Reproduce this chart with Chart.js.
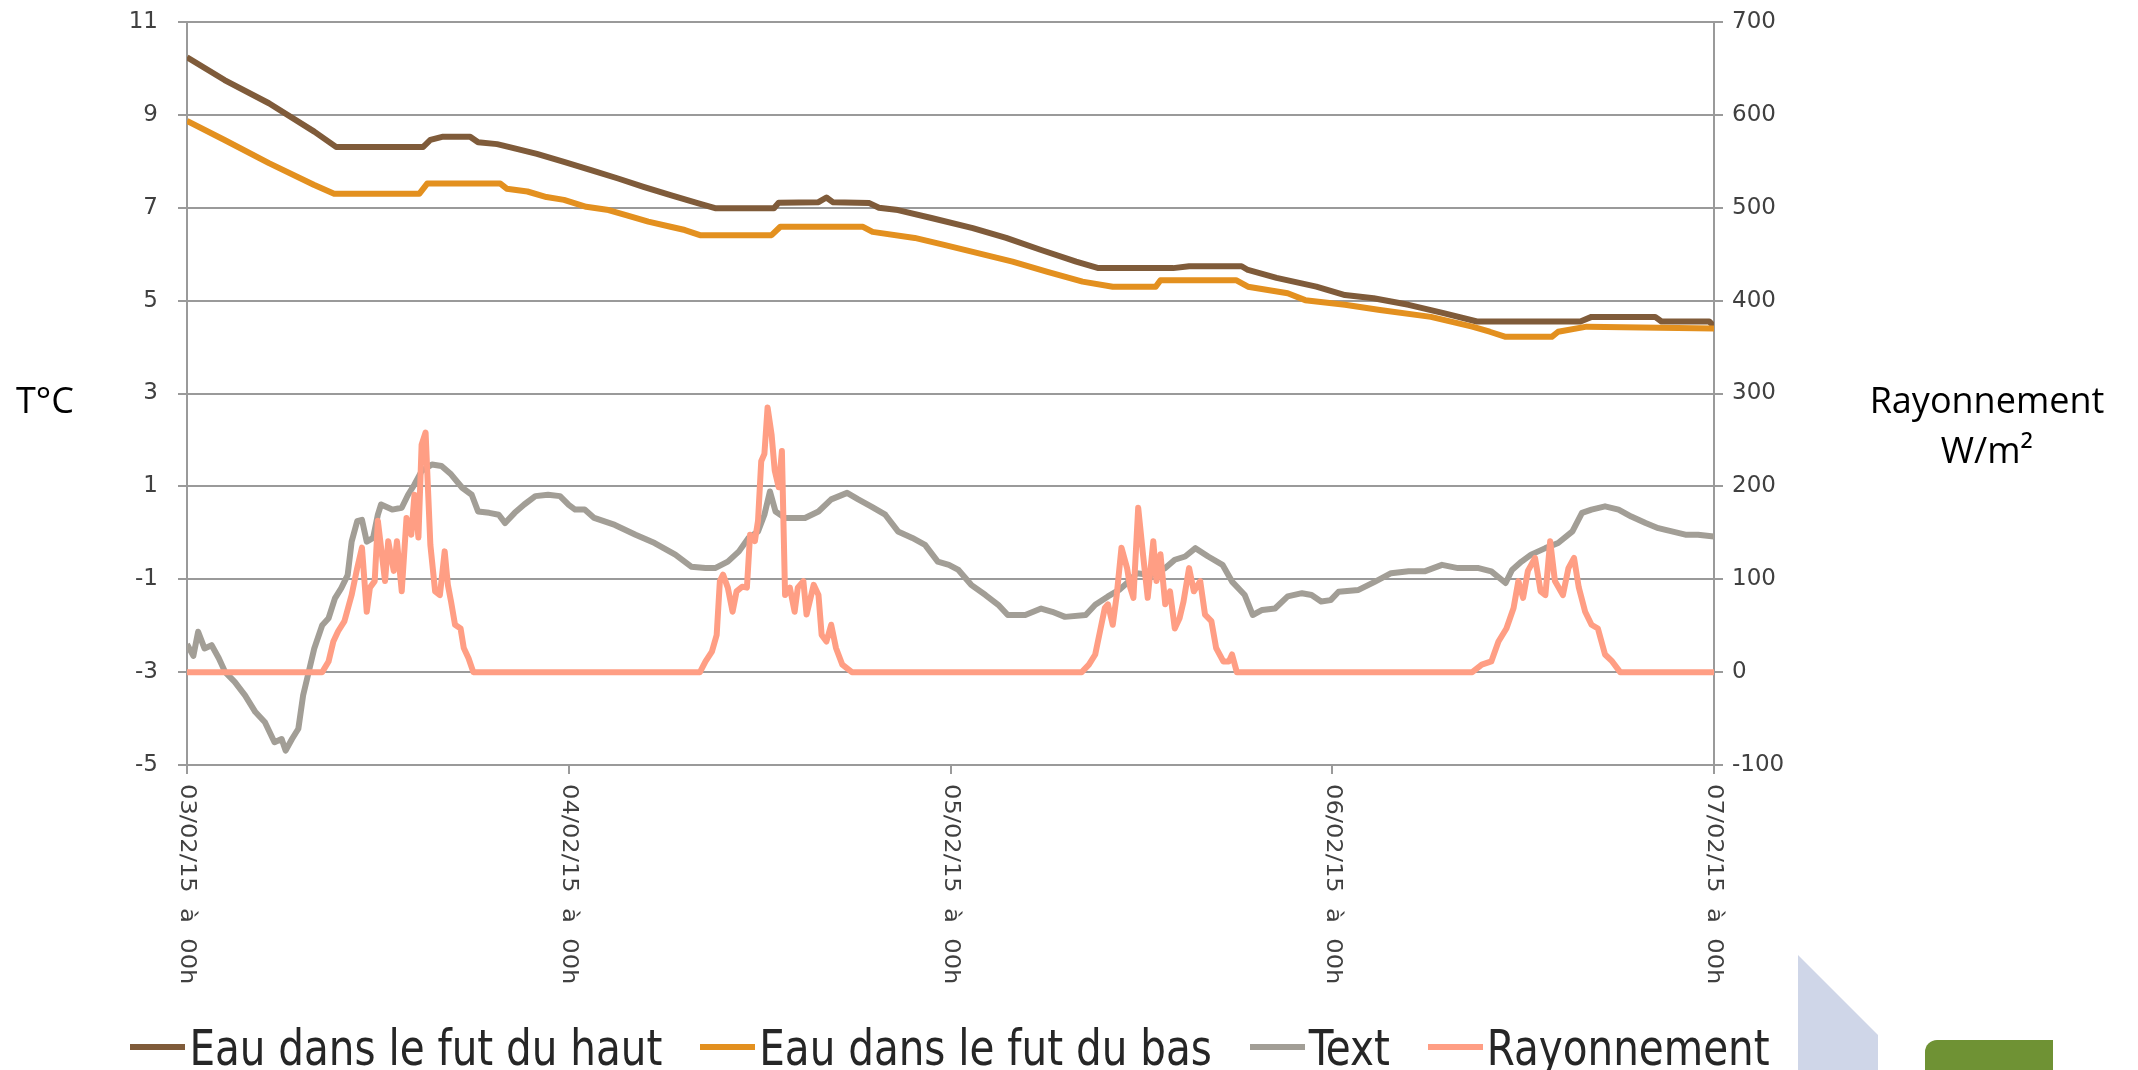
<!DOCTYPE html>
<html lang="fr">
<head>
<meta charset="utf-8">
<title>Températures des fûts et rayonnement</title>
<script src="https://cdn.jsdelivr.net/npm/chart.js"></script>
<style>
  body { margin: 0; background: #fff; }
  #page { position: relative; width: 2138px; height: 1070px; overflow: hidden; background: #fff; }
  #graph { position: absolute; left: 0; top: 0; }
  .titre { position: absolute; font-family: 'Open Sans', sans-serif; font-size: 36px; line-height: 50px; color: #000; }
  #legende { position: absolute; left: 0; width: 1900px; top: 1020px; height: 54px;
             display: flex; justify-content: center; align-items: center;
             font-family: 'DejaVu Sans Condensed', 'DejaVu Sans', sans-serif; font-size: 45px; color: #262626; }
  #legende .item { display: flex; align-items: center; margin: 0 19px; white-space: nowrap; }
  #legende .item span.txt { display: inline-block; transform: scaleY(1.1); }
  #legende .trait { width: 55px; height: 6px; margin-right: 4px; }
  #forme { position: absolute; left: 1798px; top: 955px; width: 80px; height: 115px; background: #cfd6e8;
           clip-path: polygon(0 0, 100% 69.6%, 100% 100%, 0 100%); }
  #onglet { position: absolute; left: 1925px; top: 1040px; width: 128px; height: 40px; background: #6f9234;
            border-top-left-radius: 12px; }
</style>
</head>
<body>
<div id="page">
  <canvas id="graph" width="2138" height="1070"></canvas>
  <div class="titre" style="left:16px; top:375px;">T°C</div>
  <div class="titre" style="left:1837px; top:375px; width:300px; text-align:center;">Rayonnement<br>W/m²</div>
  <div id="legende"></div>
  <div id="forme"></div>
  <div id="onglet"></div>
</div>

<script>
// heures comptées depuis le 03/02/15 à 00h
var heuresTicks = [0, 24, 48, 72, 96];
var etiquettesX = ['03/02/15  à  00h', '04/02/15  à  00h', '05/02/15  à  00h', '06/02/15  à  00h', '07/02/15  à  00h'];

var nomsSeries = ['Eau dans le fut du haut', 'Eau dans le fut du bas', 'Text', 'Rayonnement'];
var couleurs = ['#7f5b3a', '#e3901f', '#a29e96', '#ff9e84'];

// eau dans le fut du haut (°C)
var heuresHaut = [0, 2.36, 5.15, 8.0, 9.37, 14.85, 15.3, 16.1, 17.8, 18.3, 19.5, 20.6, 22.0, 23.7, 25.4, 27.1,
  28.7, 30.4, 32.1, 33.2, 36.9, 37.2, 39.7, 40.2, 40.6, 42.9, 43.5, 44.7, 46.8, 49.4, 51.5, 53.7, 55.9, 57.3,
  62.0, 63.0, 66.3, 66.7, 68.5, 71.0, 72.8, 74.6, 76.8, 79.0, 81.1, 87.6, 88.3, 92.3, 92.7, 95.7, 96];
var eauHaut = [10.24, 9.75, 9.25, 8.64, 8.31, 8.31, 8.46, 8.53, 8.53, 8.41, 8.37, 8.28, 8.16, 7.99, 7.81, 7.63,
  7.45, 7.27, 7.1, 6.99, 6.99, 7.11, 7.12, 7.22, 7.12, 7.1, 7.0, 6.95, 6.78, 6.56, 6.35, 6.09, 5.84, 5.7,
  5.7, 5.74, 5.74, 5.66, 5.49, 5.3, 5.12, 5.05, 4.91, 4.73, 4.55, 4.55, 4.65, 4.65, 4.55, 4.55, 4.45];

// eau dans le fut du bas (°C)
var heuresBas = [0, 2.36, 5.15, 8.0, 9.25, 14.6, 15.1, 19.7, 20.1, 21.4, 22.6, 23.7, 25.1, 26.5, 27.6, 29.0,
  30.4, 31.3, 32.25, 36.75, 37.3, 42.5, 43.1, 45.75, 47.6, 49.4, 51.9, 54.1, 56.3, 58.2, 60.9, 61.2, 65.95,
  66.7, 69.2, 70.3, 72.8, 75.0, 78.2, 80.8, 81.9, 82.9, 85.8, 86.2, 88.0, 96];
var eauBas = [8.87, 8.46, 7.96, 7.49, 7.3, 7.3, 7.52, 7.52, 7.41, 7.35, 7.23, 7.17, 7.02, 6.95, 6.84, 6.7,
  6.59, 6.52, 6.41, 6.41, 6.59, 6.59, 6.48, 6.35, 6.2, 6.05, 5.84, 5.62, 5.41, 5.3, 5.3, 5.44, 5.44,
  5.3, 5.16, 5.01, 4.91, 4.8, 4.65, 4.44, 4.33, 4.22, 4.22, 4.33, 4.44, 4.4];

// température extérieure (°C)
var heuresExt = [0, 0.4, 0.7, 1.1, 1.55, 2.0, 2.4, 3.0, 3.65, 4.3, 4.9, 5.5, 5.95, 6.2, 6.6, 7.0, 7.3, 7.6,
  8.0, 8.5, 8.9, 9.3, 9.7, 10.1, 10.35, 10.7, 11.0, 11.3, 11.7, 12.0, 12.2, 12.9, 13.5, 13.9, 14.3, 14.75,
  15.4, 16.0, 16.6, 17.3, 17.9, 18.3, 19.0, 19.6, 20.0, 20.6, 21.2, 21.9, 22.7, 23.45, 24.0, 24.4, 25.0,
  25.6, 26.9, 28.2, 29.4, 30.7, 31.7, 32.6, 33.2, 34.0, 34.7, 35.3, 35.9, 36.3, 36.65, 37.0, 37.6, 38.2,
  38.85, 39.7, 40.5, 41.5, 42.2, 43.0, 43.9, 44.7, 45.6, 46.4, 47.2, 47.9, 48.5, 49.3, 50.2, 51.0, 51.6,
  52.7, 53.7, 54.4, 55.2, 56.5, 57.1, 57.9, 58.6, 59.2, 59.7, 60.65, 61.5, 62.1, 62.75, 63.4, 64.2, 65.1,
  65.7, 66.5, 67.0, 67.6, 68.4, 69.2, 70.1, 70.7, 71.3, 71.9, 72.4, 73.65, 74.7, 75.7, 76.8, 77.8, 78.9,
  79.9, 81.2, 82.0, 82.9, 83.3, 83.9, 84.5, 85.4, 86.2, 87.1, 87.7, 88.3, 89.15, 90.0, 90.8, 91.7, 92.5,
  93.35, 94.2, 95.0, 96];
var tempExt = [-2.4, -2.65, -2.13, -2.49, -2.42, -2.7, -3.0, -3.21, -3.5, -3.86, -4.08, -4.51, -4.44, -4.69,
  -4.44, -4.22, -3.5, -3.07, -2.49, -1.99, -1.84, -1.41, -1.19, -0.91, -0.19, 0.25, 0.28, -0.19, -0.11, 0.39,
  0.61, 0.5, 0.54, 0.82, 1.04, 1.33, 1.47, 1.44, 1.26, 0.97, 0.82, 0.46, 0.43, 0.39, 0.21, 0.43, 0.61, 0.79,
  0.82, 0.79, 0.6, 0.5, 0.5, 0.32, 0.17, -0.04, -0.22, -0.47, -0.73, -0.76, -0.76, -0.62, -0.4, -0.11, 0.03,
  0.39, 0.89, 0.46, 0.32, 0.32, 0.32, 0.46, 0.72, 0.86, 0.72, 0.57, 0.39, 0.03, -0.11, -0.26, -0.62, -0.69,
  -0.8, -1.12, -1.34, -1.55, -1.77, -1.77, -1.63, -1.7, -1.81, -1.77, -1.55, -1.37, -1.23, -1.05, -0.87,
  -0.91, -0.76, -0.58, -0.51, -0.33, -0.51, -0.69, -1.05, -1.34, -1.77, -1.66, -1.63, -1.37, -1.3, -1.34,
  -1.48, -1.45, -1.27, -1.23, -1.05, -0.87, -0.83, -0.83, -0.69, -0.76, -0.76, -0.83, -1.08, -0.8, -0.62,
  -0.47, -0.33, -0.22, 0.03, 0.43, 0.5, 0.57, 0.5, 0.35, 0.21, 0.1, 0.03, -0.04, -0.04, -0.08];

// rayonnement (W/m²)
var heuresRay = [0, 8.5, 8.9, 9.2, 9.5, 9.9, 10.35, 10.7, 11.0, 11.3, 11.5, 11.8, 12.0, 12.45, 12.65, 13.0,
  13.2, 13.5, 13.8, 14.1, 14.3, 14.55, 14.75, 15.0, 15.3, 15.6, 15.9, 16.2, 16.4, 16.6, 16.85, 17.2, 17.4,
  17.7, 18.0,
  32.25, 32.6, 33.0, 33.3, 33.5, 33.7, 34.0, 34.3, 34.55, 34.9, 35.2, 35.4, 35.7, 35.9, 36.1, 36.3, 36.5,
  36.75, 36.95, 37.2, 37.4, 37.6, 37.9, 38.2, 38.4, 38.75, 38.95, 39.4, 39.7, 39.9, 40.2, 40.5, 40.8, 41.2,
  41.8,
  56.25, 56.7, 57.1, 57.4, 57.7, 57.9, 58.2, 58.45, 58.75, 59.1, 59.3, 59.5, 59.8, 60.1, 60.4, 60.75, 60.95,
  61.2, 61.5, 61.8, 62.1, 62.4, 62.65, 63.0, 63.3, 63.7, 64.0, 64.4, 64.7, 65.15, 65.5, 65.7, 66.0,
  80.8, 81.4, 82.0, 82.45, 82.95, 83.4, 83.7, 84.0, 84.3, 84.75, 85.1, 85.4, 85.7, 86.0, 86.5, 86.85, 87.2,
  87.5, 87.9, 88.3, 88.7, 89.15, 89.6, 90.1, 96];
var rayonnement = [0, 0, 11.5, 33, 44, 55, 83, 112, 134, 65, 91, 98, 163, 98, 141, 109,
  141, 87, 166, 148, 191, 145, 245, 258, 137, 87, 83, 130, 94, 76, 51, 47, 26,
  15, 0,
  0, 11.5, 22, 40, 98, 105, 91, 65, 87, 92, 91, 148, 141, 163, 227, 235, 285,
  256, 217, 199, 238, 83, 91, 65, 91, 98, 62, 94, 83, 40, 33, 51, 26, 8,
  0,
  0, 8, 19, 44, 69, 73, 51, 83, 134, 112, 91, 80, 177, 127, 80, 141, 98,
  127, 73, 87, 47, 58, 76, 112, 87, 98, 62, 55, 26, 11.5, 11.5, 19, 0,
  0, 8, 11.5, 33, 47, 69, 98, 80, 109, 123, 87, 83, 141, 98, 83, 112, 123,
  91, 65, 51, 47, 19, 11.5, 0, 0];

var gris = '#9a9a9a';
var policeTicks = { family: 'DejaVu Sans', size: 23 };

function points(heures, valeurs) {
    return heures.map(function(h, i) { return { x: h, y: valeurs[i] }; });
}

// pas de marge auto au-dessus / au-dessous des axes verticaux
function sansMarge(s) {
    s.paddingTop = 0;
    s.paddingBottom = 0;
}

// libellés de l'axe X écrits de haut en bas (rotation +90°)
var etiquettesVerticales = {
    id: 'etiquettesVerticales',
    afterDraw: function(chart) {
        var echelle = chart.scales.x;
        var c = chart.ctx;
        c.save();
        c.font = '22px "DejaVu Sans"';
        c.fillStyle = '#404040';
        c.textAlign = 'left';
        c.textBaseline = 'middle';
        heuresTicks.forEach(function(h, i) {
            c.save();
            c.translate(echelle.getPixelForValue(h), echelle.top + 19);
            c.rotate(Math.PI / 2);
            c.scale(1.1, 1);
            c.fillText(etiquettesX[i], 0, 0);
            c.restore();
        });
        c.restore();
    }
};

var graphique = new Chart(document.getElementById('graph'), {
    type: 'line',
    data: {
        datasets: [
            { label: nomsSeries[0], data: points(heuresHaut, eauHaut), borderColor: couleurs[0], yAxisID: 'y', order: 4 },
            { label: nomsSeries[1], data: points(heuresBas, eauBas), borderColor: couleurs[1], yAxisID: 'y', order: 3 },
            { label: nomsSeries[2], data: points(heuresExt, tempExt), borderColor: couleurs[2], yAxisID: 'y', order: 2 },
            { label: nomsSeries[3], data: points(heuresRay, rayonnement), borderColor: couleurs[3], yAxisID: 'y1', order: 1 }
        ]
    },
    options: {
        responsive: false,
        animation: false,
        devicePixelRatio: 1,
        layout: { padding: { top: 22, left: 0, right: 0, bottom: 0 } },
        plugins: { legend: { display: false }, tooltip: { enabled: false } },
        elements: {
            point: { radius: 0 },
            line: { tension: 0, borderWidth: 6, borderJoinStyle: 'round', fill: false }
        },
        scales: {
            x: {
                type: 'linear', min: 0, max: 96,
                afterBuildTicks: function(s) { s.ticks = heuresTicks.map(function(v) { return { value: v }; }); },
                ticks: { display: false },
                grid: { drawOnChartArea: false, tickLength: 9, color: gris, lineWidth: 2 },
                border: { color: gris, width: 2 },
                afterFit: function(s) { s.height = 305; }
            },
            y: {
                position: 'left', min: -5, max: 11,
                ticks: { stepSize: 2, font: policeTicks, color: '#404040', padding: 20 },
                grid: { color: gris, lineWidth: 2, tickLength: 9 },
                border: { color: gris, width: 2 },
                afterFit: function(s) { s.width = 187; sansMarge(s); }
            },
            y1: {
                position: 'right', min: -100, max: 700,
                ticks: { stepSize: 100, font: policeTicks, color: '#404040', padding: 9 },
                grid: { drawOnChartArea: false, color: gris, lineWidth: 2, tickLength: 9 },
                border: { color: gris, width: 2 },
                afterFit: function(s) { s.width = 2138 - 1714; sansMarge(s); }
            }
        }
    },
    plugins: [etiquettesVerticales]
});

// légende HTML construite depuis les séries du graphique
var legende = document.getElementById('legende');
graphique.data.datasets.forEach(function(ds) {
    legende.insertAdjacentHTML('beforeend',
        '<div class="item"><span class="trait" style="background:' + ds.borderColor + '"></span>' +
        '<span class="txt">' + ds.label + '</span></div>');
});
</script>
</body>
</html>
